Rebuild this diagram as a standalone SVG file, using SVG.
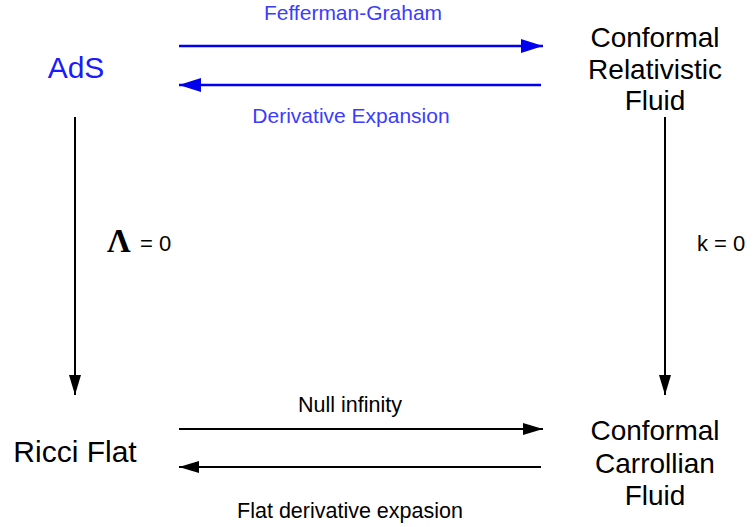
<svg xmlns="http://www.w3.org/2000/svg" width="753" height="527" viewBox="0 0 753 527">
<style>
text{font-family:"Liberation Sans",Arial,sans-serif;fill:#000;text-anchor:middle}
.node{font-size:28px}
.lnode{font-size:30px}
.lbl{font-size:21px}
.blue{fill:#1a1aff}
.lblue{fill:#3c3cff}
.cb{stroke:#0000ee;stroke-width:2.6;fill:none}
.ck{stroke:#000;stroke-width:2;fill:none}
</style>
<defs>
<marker id="ab" markerUnits="userSpaceOnUse" markerWidth="22" markerHeight="14" refX="22" refY="7" orient="auto"><path d="M0,0 L22,7 L0,14 Z" fill="#0000ee"/></marker>
<marker id="ak" markerUnits="userSpaceOnUse" markerWidth="20" markerHeight="12" refX="20" refY="6" orient="auto"><path d="M0,0 L20,6 L0,12 Z" fill="#000"/></marker>
</defs>
<g id="ads"><text class="lnode blue" x="76" y="78">AdS</text></g>
<g id="crf"><text class="node" x="655" y="47">Conformal</text><text class="node" x="655" y="79">Relativistic</text><text class="node" x="655" y="110">Fluid</text></g>
<g id="ricci"><text class="lnode" x="75" y="462">Ricci Flat</text></g>
<g id="ccf"><text class="node" x="655" y="440">Conformal</text><text class="node" x="655" y="473">Carrollian</text><text class="node" x="655" y="505">Fluid</text></g>
<g id="connectors">
<line class="cb" x1="179" y1="46" x2="543" y2="46" marker-end="url(#ab)"/>
<line class="cb" x1="541" y1="85" x2="179" y2="85" marker-end="url(#ab)"/>
<line class="ck" x1="75" y1="117" x2="75" y2="395" marker-end="url(#ak)"/>
<line class="ck" x1="665" y1="117" x2="665" y2="395" marker-end="url(#ak)"/>
<line class="ck" x1="179" y1="429" x2="543" y2="429" marker-end="url(#ak)"/>
<line class="ck" x1="541" y1="467" x2="179" y2="467" marker-end="url(#ak)"/>
<text class="lbl lblue" x="353" y="20">Fefferman-Graham</text>
<text class="lbl lblue" x="351" y="123">Derivative Expansion</text>
<text x="107" y="252" style="text-anchor:start;font-family:'Liberation Serif',serif;font-weight:bold;font-size:33px">Λ</text>
<text class="lbl" x="140" y="251" style="text-anchor:start;font-size:22px">= 0</text>
<text class="lbl" x="697" y="251" style="text-anchor:start;font-size:22px">k = 0</text>
<text class="lbl" x="350" y="412" style="font-size:21.5px">Null infinity</text>
<text class="lbl" x="350" y="518" style="font-size:21.5px">Flat derivative expasion</text>
</g>
</svg>
